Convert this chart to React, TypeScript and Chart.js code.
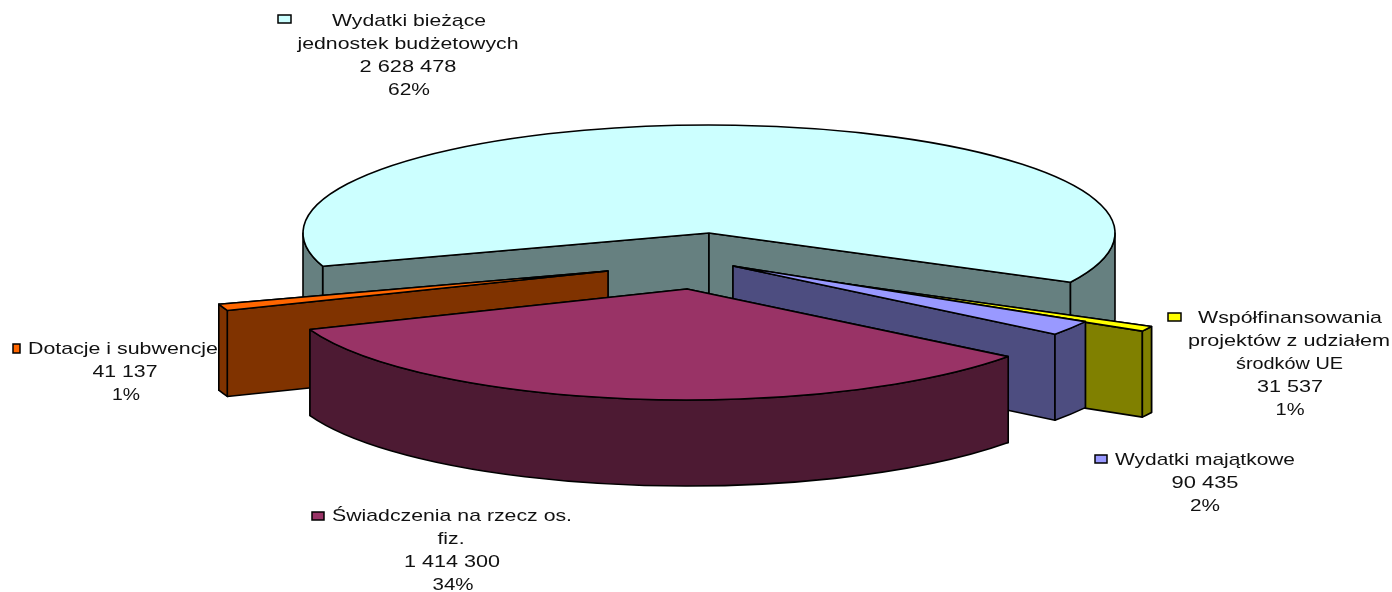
import React, { useEffect, useRef } from "react";
import { Chart, registerables } from "chart.js";

Chart.register(...registerables);

// ---- data ----
const categories = [
  "Wydatki bieżące jednostek budżetowych",
  "Współfinansowania projektów z udziałem środków UE",
  "Wydatki majątkowe",
  "Świadczenia na rzecz os. fiz.",
  "Dotacje i subwencje",
];
const values = [2628478, 31537, 90435, 1414300, 41137];
const topColors = ["#CCFFFF", "#FFFF00", "#9999FF", "#993366", "#FF6600"];
const wallColors = ["#668080", "#808000", "#4D4D80", "#4D1A33", "#803300"];

const labelLines = [
  ["Wydatki bieżące", "jednostek budżetowych", "2 628 478", "62%"],
  ["Współfinansowania", "projektów z udziałem", "środków UE", "31 537", "1%"],
  ["Wydatki majątkowe", "90 435", "2%"],
  ["Świadczenia na rzecz os.", "fiz.", "1 414 300", "34%"],
  ["Dotacje i subwencje", "41 137", "1%"],
];

// ---- layout (styling of the 3-D projection, not data) ----
const W = 1392;
const H = 592;
const PIE_X = 709;
const PIE_Y = 233;
const DEPTH = 86;
const ROTATION = 252.1;
const radX = [406, 406, 406, 405, 409];
const radY = [108, 111, 112, 111, 108];
const explodeX = [0, 81, 24, -22, -101];
const explodeY = [0, 43, 33, 56, 38];
const drawOrder = [0, 4, 1, 2, 3];
const LINE_W = 1.6;

const labelCx = [
  [409, 408, 408, 409],
  [1290, 1289, 1289.5, 1290, 1290],
  [1205, 1205, 1205],
  [452, 451, 452, 453],
  [123, 125, 126],
];
const labelFit = [
  [154, 221, 97, 42],
  [184, 202, 107, 66, 29],
  [180, 67, 30],
  [240, 27, 96, 41],
  [190, 65, 28],
];
const labelY = [20, 317, 459, 515, 348];
const keyBox = [
  [278, 15, 13, 8],
  [1168, 313, 13, 8],
  [1095, 455, 12, 8],
  [312, 512, 12, 8],
  [13, 344, 7, 9],
];
const LINE_STEP = 23;

function outerWallSpans(s: number, e: number): [number, number][] {
  const out: [number, number][] = [];
  for (let k = -2; k <= 2; k++) {
    const a = Math.max(s, 2 * Math.PI * k);
    const b = Math.min(e, 2 * Math.PI * k + Math.PI);
    if (b > a) out.push([a, b]);
  }
  return out;
}

const pie3d = {
  id: "pie3d",
  beforeDatasetDraw(chart: any) {
    const ctx: CanvasRenderingContext2D = chart.ctx;
    const arcs = chart.getDatasetMeta(0).data;
    ctx.save();
    ctx.lineWidth = LINE_W;
    ctx.strokeStyle = "#000";
    ctx.lineJoin = "round";
    for (const i of drawOrder) {
      const arc = arcs[i];
      const s = arc.startAngle;
      const e = arc.endAngle;
      const cx = PIE_X + explodeX[i];
      const cy = PIE_Y + explodeY[i];
      const RX = radX[i];
      const RY = radY[i];
      ctx.fillStyle = wallColors[i];
      // radial walls, the one lower on the page last
      const edges = [s, e].sort((a, b) => Math.sin(a) - Math.sin(b));
      for (const a of edges) {
        const px = cx + RX * Math.cos(a);
        const py = cy + RY * Math.sin(a);
        ctx.beginPath();
        ctx.moveTo(cx, cy);
        ctx.lineTo(px, py);
        ctx.lineTo(px, py + DEPTH);
        ctx.lineTo(cx, cy + DEPTH);
        ctx.closePath();
        ctx.fill();
        ctx.stroke();
      }
      // curved outer wall
      for (const [a, b] of outerWallSpans(s, e)) {
        ctx.beginPath();
        ctx.ellipse(cx, cy, RX, RY, 0, a, b);
        ctx.ellipse(cx, cy + DEPTH, RX, RY, 0, b, a, true);
        ctx.closePath();
        ctx.fill();
        ctx.stroke();
      }
      // top face: the library's own arc, squashed
      const R = arc.outerRadius;
      ctx.save();
      ctx.translate(cx, cy);
      ctx.scale(RX / R, RY / R);
      ctx.translate(-arc.x, -arc.y);
      arc.draw(ctx);
      ctx.restore();
      ctx.beginPath();
      ctx.moveTo(cx, cy);
      ctx.ellipse(cx, cy, RX, RY, 0, s, e);
      ctx.closePath();
      ctx.stroke();
    }
    ctx.restore();
    return false;
  },
  afterDatasetsDraw(chart: any) {
    const ctx: CanvasRenderingContext2D = chart.ctx;
    ctx.save();
    ctx.font = '17px "Liberation Sans"';
    ctx.textBaseline = "middle";
    ctx.textAlign = "center";
    labelLines.forEach((lines, i) => {
      lines.forEach((t, j) => {
        const sx = labelFit[i][j] / ctx.measureText(t).width;
        ctx.save();
        ctx.translate(labelCx[i][j], labelY[i] + j * LINE_STEP);
        ctx.scale(sx, 1);
        ctx.fillStyle = "#111";
        ctx.fillText(t, 0, 1);
        ctx.restore();
      });
      const [x, y, w, h] = keyBox[i];
      ctx.fillStyle = topColors[i];
      ctx.strokeStyle = "#000";
      ctx.lineWidth = 1.5;
      ctx.fillRect(x, y, w, h);
      ctx.strokeRect(x, y, w, h);
    });
    ctx.restore();
  },
};

export default function App() {
  const ref = useRef<HTMLCanvasElement>(null);
  useEffect(() => {
    document.body.style.margin = "0";
    const chart = new Chart(ref.current!, {
      type: "pie",
      data: {
        labels: categories,
        datasets: [{ data: values, backgroundColor: topColors, borderWidth: 0 }],
      },
      options: {
        responsive: false,
        animation: false,
        devicePixelRatio: 1,
        rotation: ROTATION,
        plugins: { legend: { display: false }, tooltip: { enabled: false } },
      },
      plugins: [pie3d],
    } as any);
    return () => chart.destroy();
  }, []);
  return <canvas ref={ref} width={W} height={H} style={{ display: "block" }} />;
}
